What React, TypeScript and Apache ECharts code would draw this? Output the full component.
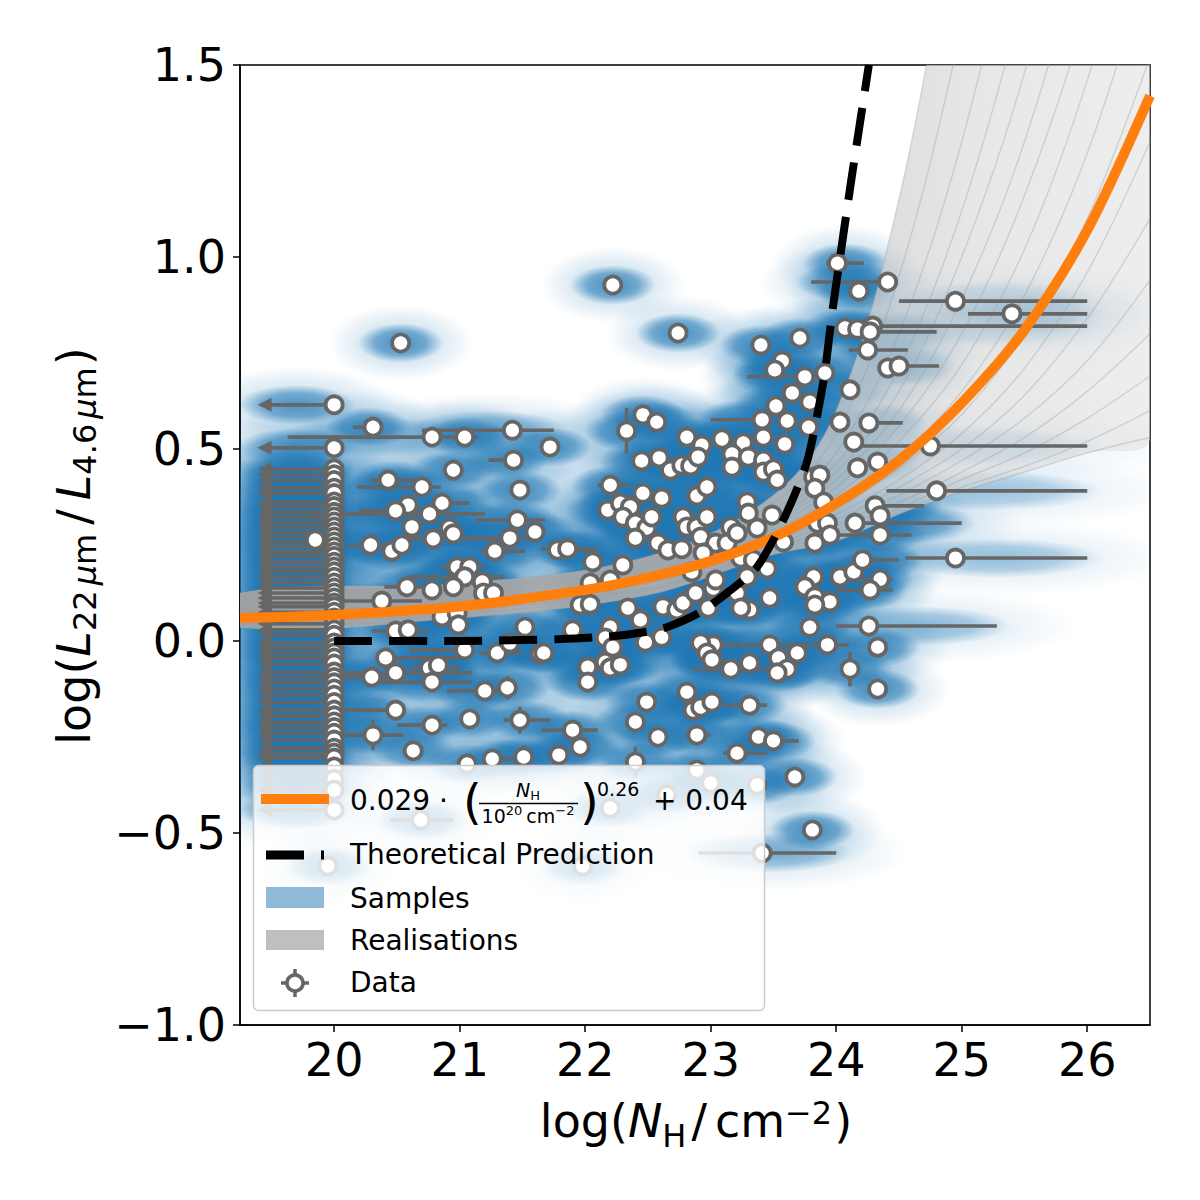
import React, { useEffect, useRef } from 'react';
import * as echarts from 'echarts';

const FONT = 'DejaVu Sans';

const X_MIN = 19.25;
const X_MAX = 26.5;
const Y_MIN = -1.0;
const Y_MAX = 1.5;
const xTicks = [20, 21, 22, 23, 24, 25, 26];
const xTickLabels = ['20', '21', '22', '23', '24', '25', '26'];
const yTicks = [-1.0, -0.5, 0.0, 0.5, 1.0, 1.5];
const yTickLabels = ['−1.0', '−0.5', '0.0', '0.5', '1.0', '1.5'];

// Data: [log NH, log ratio, NH lower end, NH upper end, y error]
const dataPoints: number[][] = [
  [20.31, 0.557, 20.15, 20.39], [20.78, 0.531, 19.63, 21.10], [21.04, 0.531, 20.95, 21.15], [21.42, 0.549, 20.70, 21.75],
  [21.72, 0.505], [21.43, 0.471, 21.23, 21.50], [20.95, 0.445], [20.43, 0.419, 20.29, 20.65], [20.70, 0.401, 20.18, 20.85],
  [21.48, 0.393], [20.59, 0.354, 20.50, 20.65], [20.86, 0.359, 20.80, 21.08], [20.49, 0.339, 20.20, 20.68],
  [20.76, 0.331, 19.83, 21.20], [20.62, 0.297], [20.92, 0.294], [21.46, 0.315, 21.12, 21.68], [21.60, 0.284],
  [20.95, 0.279], [20.79, 0.266, 20.50, 21.30], [21.40, 0.268, 21.05, 21.55], [20.29, 0.250, 20.10, 20.45],
  [20.46, 0.234], [20.54, 0.250], [21.28, 0.234, 21.16, 21.52], [21.78, 0.237, 21.78, 22.10], [20.98, 0.193],
  [21.08, 0.193, 20.85, 21.20], [21.04, 0.167, 20.60, 21.35], [21.18, 0.154], [20.58, 0.141, 20.40, 20.85],
  [20.78, 0.133], [20.95, 0.141], [21.19, 0.125], [21.27, 0.125], [20.38, 0.104, 20.05, 20.70], [20.86, 0.063],
  [20.98, 0.073], [20.99, 0.042], [20.49, 0.026, 20.30, 20.75], [20.59, 0.029], [21.52, 0.036],
  [21.04, -0.023, 20.60, 21.10], [21.30, -0.031, 21.15, 21.50], [21.40, -0.005], [21.64, -0.034],
  [20.41, -0.044, 20.35, 21.00], [20.49, -0.083, 20.07, 21.10], [20.76, -0.070, 20.60, 21.00],
  [20.30, -0.094, 19.85, 20.45], [20.78, -0.107, 20.30, 21.10], [20.83, -0.063], [21.20, -0.130, 20.90, 21.35],
  [21.38, -0.122, 21.38, 21.38, 0.03], [20.49, -0.180, 20.00, 20.50], [20.78, -0.219, 20.50, 20.90], [21.08, -0.203],
  [21.48, -0.206, 21.35, 21.72, 0.035], [20.31, -0.245, 20.00, 20.55, 0.04], [20.63, -0.286], [21.06, -0.320],
  [21.26, -0.307, 21.20, 21.50], [21.51, -0.302, 21.51, 21.51, 0.03], [21.79, -0.297],
  [22.02, -0.068], [22.16, -0.055], [22.20, -0.070], [22.28, -0.062], [22.02, -0.107], [22.49, -0.159],
  [22.81, -0.133], [22.86, -0.180], [22.92, -0.172], [23.01, -0.159], [23.31, -0.167, 23.10, 23.45], [22.40, -0.211],
  [21.90, -0.232, 21.65, 22.10], [22.58, -0.250], [22.89, -0.245, 22.80, 23.00], [23.38, -0.250],
  [23.50, -0.260, 23.30, 23.70], [21.96, -0.276], [23.21, -0.292, 23.10, 23.45], [22.40, -0.315, 22.40, 22.40, 0.04],
  [23.67, -0.354], [23.81, -0.492], [23.41, -0.552, 22.90, 24.00], [22.89, -0.336], [24.33, -0.016],
  [24.11, -0.073, 24.11, 24.11, 0.045], [24.33, -0.125], [23.47, -0.010, 23.00, 23.78], [23.02, -0.010],
  [23.93, -0.010, 23.70, 24.10], [23.69, -0.031], [23.31, -0.057], [23.02, -0.055], [23.16, -0.073, 22.85, 23.50],
  [23.54, -0.044], [23.61, -0.073], [23.53, -0.083],
  [22.46, 0.589], [22.57, 0.570], [22.33, 0.547, 22.33, 22.33, 0.06], [22.81, 0.531], [22.93, 0.510], [23.09, 0.526],
  [23.26, 0.516], [23.42, 0.531], [23.59, 0.513], [23.41, 0.576, 23.00, 23.50], [23.61, 0.573], [23.65, 0.646],
  [23.52, 0.612], [23.79, 0.622], [24.03, 0.570], [24.11, 0.654], [24.14, 0.518], [24.75, 0.508, 24.14, 26.00],
  [24.17, 0.451], [23.78, 0.557], [22.45, 0.469], [22.59, 0.477], [22.68, 0.445], [22.77, 0.458], [22.84, 0.456],
  [22.90, 0.479], [23.17, 0.487], [23.17, 0.453], [23.30, 0.479], [23.42, 0.471], [23.42, 0.440], [23.50, 0.448],
  [23.53, 0.419], [22.20, 0.406, 22.10, 22.35], [22.46, 0.385], [22.61, 0.372], [22.89, 0.378], [22.97, 0.401],
  [22.18, 0.341], [22.28, 0.359], [22.36, 0.349], [22.30, 0.323], [22.40, 0.307], [22.49, 0.294], [22.53, 0.323],
  [22.40, 0.268], [22.78, 0.323], [22.81, 0.297], [22.89, 0.297], [22.97, 0.323], [22.92, 0.271], [23.04, 0.255],
  [23.13, 0.255], [22.58, 0.255], [22.66, 0.237], [22.77, 0.240], [22.94, 0.229], [23.16, 0.297], [23.21, 0.281],
  [23.29, 0.362], [23.30, 0.333], [23.37, 0.294], [23.49, 0.328], [23.24, 0.216], [23.34, 0.211], [23.58, 0.258],
  [23.82, 0.427], [23.87, 0.432], [23.83, 0.398], [23.90, 0.362], [23.85, 0.307], [23.93, 0.307], [23.95, 0.276],
  [23.83, 0.255], [24.15, 0.307, 24.15, 25.00], [21.86, 0.240, 21.65, 22.08], [22.06, 0.206], [22.30, 0.198],
  [22.04, 0.151], [22.20, 0.159], [21.96, 0.094], [22.04, 0.096], [22.34, 0.086], [22.44, 0.055], [22.62, 0.089],
  [22.73, 0.081], [22.78, 0.099], [22.88, 0.125], [22.98, 0.086], [23.02, 0.138], [23.04, 0.159], [22.85, 0.180],
  [23.21, 0.125], [23.31, 0.081], [23.24, 0.086], [23.29, 0.167], [23.45, 0.188], [23.47, 0.112], [23.82, 0.167],
  [23.75, 0.141], [23.83, 0.115], [23.95, 0.102], [23.83, 0.094], [24.03, 0.167], [24.14, 0.180],
  [21.90, 0.029], [22.20, 0.036], [22.16, 0.008], [22.22, -0.016], [22.48, -0.003], [22.61, 0.010], [21.67, -0.031],
  [22.92, -0.005], [22.97, -0.031], [23.01, -0.049], [23.79, 0.036],
  [22.22, 0.927], [22.74, 0.802], [24.01, 0.984, 23.92, 24.22], [24.41, 0.935, 23.80, 24.41], [24.18, 0.911],
  [24.07, 0.815], [24.17, 0.812], [24.29, 0.820, 24.29, 26.00], [24.27, 0.805, 24.20, 24.80],
  [24.25, 0.758, 24.10, 24.57], [24.41, 0.711], [24.50, 0.716, 24.40, 24.82], [23.40, 0.771], [23.71, 0.789],
  [23.57, 0.729], [23.51, 0.706], [23.75, 0.688, 23.29, 23.80], [23.91, 0.698],
  [24.95, 0.885, 24.50, 26.00], [25.40, 0.852, 25.05, 26.00], [24.26, 0.568, 24.26, 24.53], [24.33, 0.466],
  [24.80, 0.391, 24.40, 26.00], [24.31, 0.352, 24.31, 24.70], [24.35, 0.326], [24.35, 0.276, 24.00, 24.60],
  [24.95, 0.216, 24.55, 26.00], [24.21, 0.211, 24.21, 24.50], [24.35, 0.161, 24.10, 24.45],
  [24.27, 0.133, 24.00, 24.45], [24.26, 0.039, 24.00, 25.28], [20.53, 0.776], [19.85, 0.263],
  [20.69, -0.466, 20.45, 20.95], [22.20, -0.435], [21.98, -0.586], [19.95, -0.586], [22.65, -0.400],
  [23.37, -0.375], [23.00, -0.370],
];

// Upper limits on NH, all at log NH = 20
const upperLimitX = 20;
const upperLimitTipX = 19.39;
const upperLimitY = [
  0.615, 0.503, 0.448, 0.433, 0.418, 0.398, 0.384, 0.362, 0.350, 0.335, 0.323, 0.310, 0.297, 0.284, 0.271, 0.258,
  0.245, 0.232, 0.220, 0.205, 0.193, 0.180, 0.166, 0.151, 0.138, 0.125, 0.112, 0.099, 0.089, 0.075, 0.060, 0.045,
  0.029, 0.015, -0.005, -0.018, -0.031, -0.044, -0.060, -0.081, -0.095, -0.109, -0.125, -0.141, -0.160, -0.180,
  -0.195, -0.211, -0.225, -0.240, -0.258, -0.279, -0.292, -0.305, -0.328, -0.360, -0.388, -0.440,
];

// Best fit curve
const fitX = [19.25, 20, 21, 22, 22.5, 23, 23.5, 24, 24.5, 25, 25.5, 26, 26.5];
const fitY = [0.060, 0.068, 0.090, 0.133, 0.165, 0.208, 0.270, 0.358, 0.470, 0.620, 0.810, 1.070, 1.420];

// Theoretical prediction
const theoryX = [20, 21, 21.8, 22.2, 22.45, 22.65, 22.9, 23.13, 23.37, 23.59, 23.77, 23.9, 23.97, 24.04, 24.12, 24.26];
const theoryY = [0.0, 0.0, 0.005, 0.012, 0.022, 0.036, 0.072, 0.125, 0.193, 0.323, 0.47, 0.68, 0.86, 1.02, 1.2, 1.5];

// Realisations of the fit
const realGridX = [19.25, 21, 22.5, 23.5, 24, 24.5, 25, 25.5, 26, 26.5];
const realisations = [
  [0.125, 0.150, 0.220, 0.38, 0.60, 1.15, 2.00, 2.8, 3.6, 4.4],
  [0.120, 0.145, 0.212, 0.36, 0.54, 0.95, 1.60, 2.4, 3.3, 4.1],
  [0.115, 0.140, 0.205, 0.34, 0.49, 0.80, 1.30, 2.0, 2.9, 3.8],
  [0.110, 0.135, 0.200, 0.33, 0.46, 0.71, 1.12, 1.70, 2.5, 3.5],
  [0.105, 0.130, 0.195, 0.32, 0.44, 0.65, 1.00, 1.48, 2.15, 3.1],
  [0.100, 0.125, 0.190, 0.31, 0.42, 0.60, 0.89, 1.30, 1.88, 2.7],
  [0.095, 0.120, 0.185, 0.30, 0.40, 0.56, 0.80, 1.16, 1.65, 2.35],
  [0.090, 0.115, 0.180, 0.29, 0.38, 0.52, 0.72, 1.02, 1.46, 2.05],
  [0.085, 0.110, 0.170, 0.28, 0.36, 0.48, 0.65, 0.90, 1.27, 1.78],
  [0.080, 0.105, 0.165, 0.27, 0.345, 0.45, 0.59, 0.80, 1.10, 1.52],
  [0.075, 0.100, 0.160, 0.26, 0.33, 0.42, 0.54, 0.71, 0.96, 1.30],
  [0.070, 0.095, 0.155, 0.25, 0.315, 0.40, 0.50, 0.64, 0.84, 1.10],
  [0.065, 0.090, 0.150, 0.245, 0.30, 0.38, 0.47, 0.58, 0.73, 0.94],
  [0.060, 0.085, 0.140, 0.24, 0.29, 0.36, 0.44, 0.53, 0.65, 0.80],
  [0.050, 0.080, 0.135, 0.235, 0.28, 0.345, 0.42, 0.49, 0.58, 0.69],
  [0.045, 0.070, 0.130, 0.23, 0.27, 0.335, 0.40, 0.455, 0.52, 0.60],
  [0.035, 0.060, 0.120, 0.225, 0.26, 0.33, 0.39, 0.44, 0.49, 0.53],
];

const MARKER_EDGE = '#666666';

let measureCtx: CanvasRenderingContext2D | null = null;
function textWidth(t: string, size: number, italic?: boolean): number {
  if (!measureCtx) measureCtx = document.createElement('canvas').getContext('2d');
  if (!measureCtx) return t.length * size * 0.6;
  measureCtx.font = `${italic ? 'italic ' : ''}${size}px "${FONT}"`;
  return measureCtx.measureText(t).width;
}

type Run = { t: string; s: number; it?: boolean; dy?: number; gap?: number };

function runsWidth(runs: Run[]): number {
  return runs.reduce((w, r) => w + (r.gap || 0) + textWidth(r.t, r.s, r.it), 0);
}

function runTexts(runs: Run[], x0: number, baseline: number, z = 100): any[] {
  const out: any[] = [];
  let x = x0;
  for (const r of runs) {
    x += r.gap || 0;
    out.push({
      type: 'text',
      x,
      y: baseline + (r.dy || 0) - 0.346 * r.s,
      z,
      silent: true,
      style: {
        text: r.t,
        fontSize: r.s,
        fontFamily: FONT,
        fontStyle: r.it ? 'italic' : 'normal',
        fill: '#000',
        align: 'left',
        verticalAlign: 'middle',
      },
    });
    x += textWidth(r.t, r.s, r.it);
  }
  return out;
}

function norm(p: number[]): number[] {
  return [p[0], p[1], p[2] ?? p[0], p[3] ?? p[0], p[4] ?? 0];
}

function buildGraphic(): any[] {
  const g: any[] = [];
  const xRuns: Run[] = [
    { t: 'log(', s: 46 }, { t: 'N', s: 46, it: true }, { t: 'H', s: 32, dy: 10 },
    { t: '/', s: 46, gap: 5 }, { t: 'cm', s: 46, gap: 8 }, { t: '−2', s: 32, dy: -13 }, { t: ')', s: 46, gap: 2 },
  ];
  const xw = runsWidth(xRuns);
  g.push(...runTexts(xRuns, 696 - xw / 2, 1137));

  const yRuns: Run[] = [
    { t: 'log(', s: 46 }, { t: 'L', s: 46, it: true }, { t: '22', s: 32, dy: 6 },
    { t: 'μ', s: 32, it: true, dy: 6, gap: 5 }, { t: 'm', s: 32, dy: 6 },
    { t: '/', s: 46, gap: 9 }, { t: 'L', s: 46, it: true, gap: 9 }, { t: '4.6', s: 32, dy: 6 },
    { t: 'μ', s: 32, it: true, dy: 6, gap: 5 }, { t: 'm', s: 32, dy: 6 }, { t: ')', s: 46, gap: 2 },
  ];
  const yw = runsWidth(yRuns);
  g.push({ type: 'group', x: 90, y: 546, rotation: Math.PI / 2, children: runTexts(yRuns, -yw / 2, 0) });

  const Z = 100;
  g.push({ type: 'rect', z: Z, silent: true, shape: { x: 253.5, y: 765.5, width: 511, height: 245, r: 5 },
    style: { fill: 'rgba(255,255,255,0.8)', stroke: '#cccccc', lineWidth: 1.5 } });
  g.push({ type: 'rect', z: Z + 1, silent: true, shape: { x: 261, y: 794, width: 68, height: 10 }, style: { fill: '#ff7f0e' } });
  g.push({ type: 'line', z: Z + 1, silent: true, shape: { x1: 266, y1: 855, x2: 324, y2: 855 },
    style: { stroke: '#000', lineWidth: 9, lineDash: [38, 17] } });
  g.push({ type: 'rect', z: Z + 1, silent: true, shape: { x: 266, y: 887, width: 58, height: 21 }, style: { fill: '#8fbbd9' } });
  g.push({ type: 'rect', z: Z + 1, silent: true, shape: { x: 266, y: 930, width: 58, height: 20 }, style: { fill: '#bfbfbf' } });
  g.push({ type: 'line', z: Z + 1, silent: true, shape: { x1: 281, y1: 983, x2: 309, y2: 983 }, style: { stroke: MARKER_EDGE, lineWidth: 3.5 } });
  g.push({ type: 'line', z: Z + 1, silent: true, shape: { x1: 295, y1: 969, x2: 295, y2: 997 }, style: { stroke: MARKER_EDGE, lineWidth: 3.5 } });
  g.push({ type: 'circle', z: Z + 2, silent: true, shape: { cx: 295, cy: 983, r: 8 }, style: { fill: '#fff', stroke: MARKER_EDGE, lineWidth: 3.6 } });

  g.push(...runTexts([{ t: '0.029 · ', s: 28 }], 350, 810, Z + 2));
  g.push(...runTexts([{ t: '(', s: 48 }], 463, 819, Z + 2));
  const num: Run[] = [{ t: 'N', s: 19, it: true }, { t: 'H', s: 13, dy: 3 }];
  g.push(...runTexts(num, 528 - runsWidth(num) / 2, 797, Z + 2));
  g.push({ type: 'line', z: Z + 2, silent: true, shape: { x1: 479, y1: 803.5, x2: 578, y2: 803.5 }, style: { stroke: '#000', lineWidth: 1.3 } });
  const den: Run[] = [{ t: '10', s: 19 }, { t: '20', s: 13, dy: -8 }, { t: 'cm', s: 19, gap: 4 }, { t: '−2', s: 13, dy: -8 }];
  g.push(...runTexts(den, 528 - runsWidth(den) / 2, 823, Z + 2));
  g.push(...runTexts([{ t: ')', s: 48 }], 580, 819, Z + 2));
  g.push(...runTexts([{ t: '0.26', s: 19 }], 597, 796, Z + 2));
  g.push(...runTexts([{ t: '+ 0.04', s: 28 }], 653, 810, Z + 2));
  g.push(...runTexts([{ t: 'Theoretical Prediction', s: 28 }], 350, 864, Z + 2));
  g.push(...runTexts([{ t: 'Samples', s: 28 }], 350, 908, Z + 2));
  g.push(...runTexts([{ t: 'Realisations', s: 28 }], 350, 950, Z + 2));
  g.push(...runTexts([{ t: 'Data', s: 28 }], 350, 992, Z + 2));
  return g;
}

function tickLabel(ticks: number[], labels: string[]) {
  return (v: number) => {
    const i = ticks.findIndex((t) => Math.abs(t - v) < 1e-6);
    return i >= 0 ? labels[i] : '';
  };
}

function blobRender(scaleW: number, minW: number, hh: number, alphaBase: number) {
  return (_params: any, api: any) => {
    const x = api.value(0), y = api.value(1), lo = api.value(2), hi = api.value(3);
    const cx = hi > lo ? (lo + hi) / 2 : x;
    const hw = Math.max(minW, (hi - lo) / 2 + 0.12) * scaleW;
    const c = api.coord([cx, y]);
    const s = api.size([hw, hh]);
    const a = Math.min(alphaBase, (alphaBase * 0.45 * scaleW) / hw);
    return {
      type: 'ellipse',
      shape: { cx: c[0], cy: c[1], rx: s[0], ry: s[1] },
      style: {
        fill: new echarts.graphic.RadialGradient(0.5, 0.5, 0.5, [
          { offset: 0, color: `rgba(31,119,180,${a})` },
          { offset: 0.6, color: `rgba(31,119,180,${a * 0.7})` },
          { offset: 1, color: 'rgba(31,119,180,0)' },
        ]),
      },
    };
  };
}

export default function App() {
  const ref = useRef<HTMLDivElement>(null);
  useEffect(() => {
    if (!ref.current) return;
    const chart = echarts.init(ref.current, undefined, { renderer: 'svg' });
    const pts = dataPoints.map(norm);
    const sampleItems = [
      ...pts,
      ...upperLimitY.map((y) => [19.75, y, 19.35, 20.05, 0]),
    ];
    const upperArr = realisations[0];
    const lowerArr = realisations[realisations.length - 1];

    const series: any[] = [
      {
        type: 'custom', name: 'halo', silent: true, z: 1, clip: true,
        encode: { x: 0, y: 1 }, data: sampleItems,
        renderItem: blobRender(1.7, 0.34, 0.1, 0.2),
      },
      {
        type: 'custom', name: 'Samples', silent: true, z: 1, clip: true,
        encode: { x: 0, y: 1 }, data: sampleItems,
        renderItem: blobRender(1.0, 0.34, 0.052, 0.8),
      },
      {
        type: 'custom', name: 'realFill', silent: true, z: 2, clip: true,
        encode: { x: 0, y: 1 }, data: [[realGridX[0], lowerArr[0]]],
        renderItem: (_p: any, api: any) => {
          const top = realGridX.map((x, j) => api.coord([x, upperArr[j]]));
          const bot = realGridX.map((x, j) => api.coord([x, lowerArr[j]])).reverse();
          return {
            type: 'polygon',
            shape: { points: [...top, ...bot], smooth: 0.35 },
            style: {
              fill: new echarts.graphic.LinearGradient(0, 0, 1, 0, [
                { offset: 0, color: 'rgba(165,165,165,0.92)' },
                { offset: 0.55, color: 'rgba(178,178,178,0.88)' },
                { offset: 0.66, color: 'rgba(205,205,205,0.75)' },
                { offset: 0.8, color: 'rgba(218,218,218,0.65)' },
                { offset: 1, color: 'rgba(226,226,226,0.58)' },
              ]),
            },
          };
        },
      },
      ...realisations.map((r, i) => ({
        type: 'line', name: 'real' + i, silent: true, z: 2, clip: true, symbol: 'none', smooth: 0.35,
        data: realGridX.map((x, j) => [x, r[j]]),
        lineStyle: { color: '#9a9a9a', width: 1.4, opacity: 0.35 },
      })),
      {
        type: 'custom', name: 'errors', silent: true, z: 3, clip: true,
        encode: { x: 0, y: 1 }, data: pts,
        renderItem: (_p: any, api: any) => {
          const x = api.value(0), y = api.value(1), lo = api.value(2), hi = api.value(3), ye = api.value(4);
          const children: any[] = [];
          if (hi > lo) {
            const a = api.coord([lo, y]), b = api.coord([hi, y]);
            children.push({ type: 'line', shape: { x1: a[0], y1: a[1], x2: b[0], y2: b[1] }, style: { stroke: MARKER_EDGE, lineWidth: 3.6 } });
          }
          if (ye > 0) {
            const a = api.coord([x, y - ye]), b = api.coord([x, y + ye]);
            children.push({ type: 'line', shape: { x1: a[0], y1: a[1], x2: b[0], y2: b[1] }, style: { stroke: MARKER_EDGE, lineWidth: 3.6 } });
          }
          return { type: 'group', children };
        },
      },
      {
        type: 'custom', name: 'limits', silent: true, z: 3, clip: true,
        encode: { x: 0, y: 1 }, data: upperLimitY.map((y) => [upperLimitX, y, upperLimitTipX]),
        renderItem: (_p: any, api: any) => {
          const y = api.value(1);
          const s = api.coord([api.value(0), y]);
          const t = api.coord([api.value(2), y]);
          return {
            type: 'group',
            children: [
              { type: 'line', shape: { x1: s[0], y1: s[1], x2: t[0] + 12, y2: t[1] }, style: { stroke: MARKER_EDGE, lineWidth: 3.6 } },
              { type: 'polygon', shape: { points: [[t[0], t[1]], [t[0] + 14, t[1] - 7], [t[0] + 14, t[1] + 7]] }, style: { fill: MARKER_EDGE } },
            ],
          };
        },
      },
      {
        type: 'scatter', name: 'Data', silent: true, z: 4, symbol: 'circle', symbolSize: 17,
        data: [...pts.map((p) => [p[0], p[1]]), ...upperLimitY.map((y) => [upperLimitX, y])],
        itemStyle: { color: '#ffffff', borderColor: MARKER_EDGE, borderWidth: 3.8, opacity: 1 },
      },
      {
        type: 'line', name: 'fit', silent: true, z: 5, clip: true, symbol: 'none', smooth: 0.3,
        data: fitX.map((x, i) => [x, fitY[i]]),
        lineStyle: { color: '#ff7f0e', width: 10, cap: 'butt' },
      },
      {
        type: 'line', name: 'theory', silent: true, z: 6, clip: true, symbol: 'none', smooth: 0.25,
        data: theoryX.map((x, i) => [x, theoryY[i]]),
        lineStyle: { color: '#000000', width: 8, type: [38, 17], cap: 'butt' },
      },
    ];

    const axisCommon = {
      type: 'value',
      axisLine: { show: true, onZero: false, lineStyle: { color: '#000', width: 1.5 } },
      splitLine: { show: false },
    };

    chart.setOption({
      animation: false,
      backgroundColor: '#ffffff',
      grid: {
        left: 240, top: 65, width: 910, height: 960, show: true,
        borderColor: '#000', borderWidth: 1.5, backgroundColor: 'transparent', outerBoundsMode: 'none',
      },
      xAxis: {
        ...axisCommon,
        min: X_MIN, max: X_MAX,
        axisTick: { show: true, inside: false, length: 7, lineStyle: { color: '#000', width: 1.5 }, customValues: xTicks },
        axisLabel: { show: true, fontSize: 46, fontFamily: FONT, color: '#000', margin: 12, customValues: xTicks, formatter: tickLabel(xTicks, xTickLabels) },
      },
      yAxis: {
        ...axisCommon,
        min: Y_MIN, max: Y_MAX, interval: 0.5,
        axisTick: { show: true, inside: false, length: 7, lineStyle: { color: '#000', width: 1.5 }, customValues: yTicks },
        axisLabel: { show: true, fontSize: 46, fontFamily: FONT, color: '#000', margin: 14, customValues: yTicks, formatter: tickLabel(yTicks, yTickLabels) },
      },
      series,
      graphic: buildGraphic(),
    });
    return () => chart.dispose();
  }, []);
  return <div ref={ref} style={{ position: 'absolute', left: 0, top: 0, width: 1200, height: 1200, background: '#fff' }} />;
}
